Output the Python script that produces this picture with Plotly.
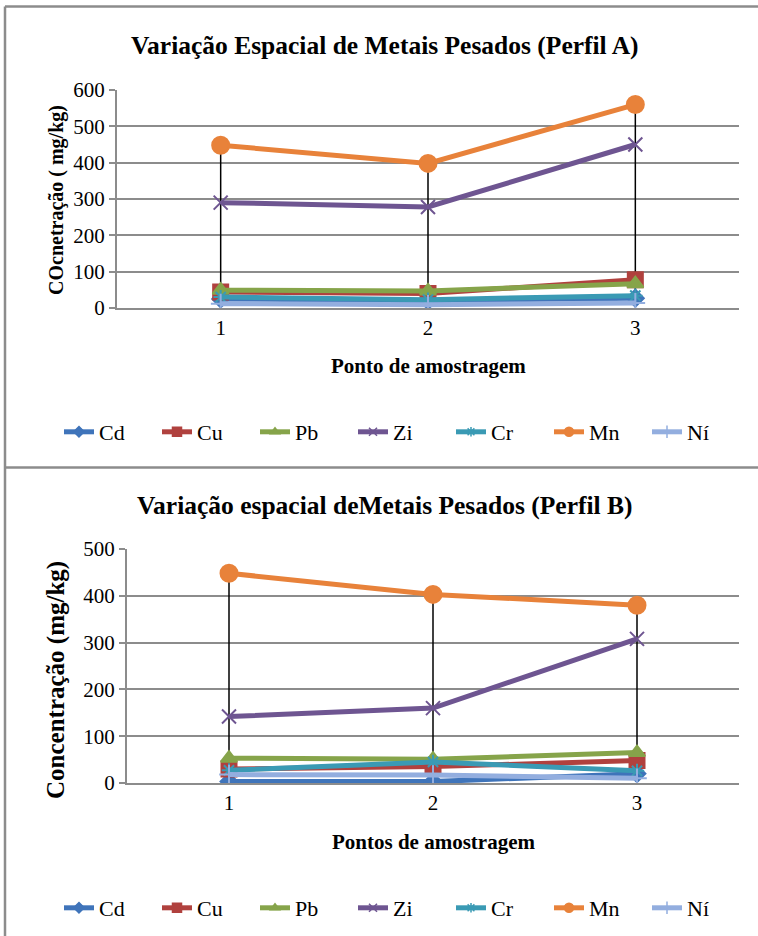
import plotly.graph_objects as go

W, H = 758, 936

points = [1, 2, 3]
point_labels = ["1", "2", "3"]
metals = ["Cd", "Cu", "Pb", "Zi", "Cr", "Mn", "Ní"]

# Perfil A (mg/kg)
A_Cd = [25, 20, 27]
A_Cu = [44, 40, 78]
A_Pb = [49, 47, 67]
A_Zi = [290, 278, 450]
A_Cr = [30, 23, 34]
A_Mn = [448, 398, 560]
A_Ni = [12, 9, 14]

# Perfil B (mg/kg)
B_Cd = [3, 3, 20]
B_Cu = [30, 35, 48]
B_Pb = [53, 51, 65]
B_Zi = [142, 160, 308]
B_Cr = [27, 45, 26]
B_Mn = [448, 403, 380]
B_Ni = [18, 17, 10]

colors = ["#3F74BA", "#B0413E", "#86A44A", "#6E5591", "#3A9AB4", "#E8823A", "#93AEDF"]
symbols = ["diamond", "square", "triangle-up", "x-thin", "asterisk", "circle", "cross-thin"]
msizes = [13, 15, 14, 14, 12, 17, 14]
legsizes = [8, 9, 8, 8, 8, 9, 9]

FONT = "Liberation Serif"

fig = go.Figure()


def px_x(p):
    return p / W


def px_y(p):
    return 1 - p / H


panels = [
    dict(data=[A_Cd, A_Cu, A_Pb, A_Zi, A_Cr, A_Mn, A_Ni], xa="x", ya="y", legend="legend",
         xdom=[px_x(117), px_x(739)], ydom=[px_y(308), px_y(90)], ymax=600,
         title="Variação Espacial de Metais Pesados (Perfil A)", title_y=45,
         ytitle="COcnetração ( mg/kg)", ytitle_size=20, ytitle_y=200,
         xtitle="Ponto de amostragem", xtitle_y=366, leg_y=432),
    dict(data=[B_Cd, B_Cu, B_Pb, B_Zi, B_Cr, B_Mn, B_Ni], xa="x2", ya="y2", legend="legend2",
         xdom=[px_x(127), px_x(739)], ydom=[px_y(783), px_y(549)], ymax=500,
         title="Variação espacial deMetais Pesados (Perfil B)", title_y=506,
         ytitle="Concentração (mg/kg)", ytitle_size=25, ytitle_y=680,
         xtitle="Pontos de amostragem", xtitle_y=842, leg_y=908),
]

annotations = []
for k, pnl in enumerate(panels):
    series = pnl["data"]
    # high-low lines
    hx, hy = [], []
    for i, p in enumerate(points):
        vals = [s[i] for s in series]
        hx += [p, p, None]
        hy += [min(vals), max(vals), None]
    fig.add_trace(go.Scatter(x=hx, y=hy, mode="lines", line=dict(color="black", width=1.5),
                             xaxis=pnl["xa"], yaxis=pnl["ya"], showlegend=False, hoverinfo="skip"))
    for j, name in enumerate(metals):
        fig.add_trace(go.Scatter(
            x=points, y=series[j], name=name, mode="lines+markers",
            line=dict(color=colors[j], width=5),
            marker=dict(symbol=symbols[j], size=msizes[j], color=colors[j],
                        line=dict(color=colors[j], width=2)),
            xaxis=pnl["xa"], yaxis=pnl["ya"], showlegend=False))
    # legend entries (smaller markers as in the reference legend)
    for j, name in enumerate(metals):
        fig.add_trace(go.Scatter(
            x=[None], y=[None], name=name, mode="lines+markers",
            line=dict(color=colors[j], width=5),
            marker=dict(symbol=symbols[j], size=legsizes[j], color=colors[j],
                        line=dict(color=colors[j], width=1.5)),
            xaxis=pnl["xa"], yaxis=pnl["ya"], legend=pnl["legend"], showlegend=True))
    axkey = "xaxis" if k == 0 else "xaxis2"
    aykey = "yaxis" if k == 0 else "yaxis2"
    fig.layout[axkey] = dict(domain=pnl["xdom"], anchor=pnl["ya"], range=[0.5, 3.5],
                             tickvals=points, ticktext=point_labels, showgrid=False,
                             showline=True, linecolor="#8C8C8C", linewidth=2, ticks="",
                             tickfont=dict(family=FONT, size=21, color="black"), zeroline=False,
                             fixedrange=True)
    fig.layout[aykey] = dict(domain=pnl["ydom"], anchor=pnl["xa"], range=[0, pnl["ymax"]],
                             dtick=100, showgrid=True, gridcolor="#8C8C8C", gridwidth=1.5,
                             showline=True, linecolor="#8C8C8C", linewidth=2, ticks="outside",
                             ticklen=6, tickcolor="#8C8C8C", tickwidth=1.5,
                             tickfont=dict(family=FONT, size=21, color="black"), zeroline=False,
                             fixedrange=True)
    annotations.append(dict(text="<b>%s</b>" % pnl["title"], x=px_x(385), y=px_y(pnl["title_y"]),
                            xref="paper", yref="paper", showarrow=False, xanchor="center",
                            yanchor="middle", font=dict(family=FONT, size=25.5, color="black")))
    annotations.append(dict(text="<b>%s</b>" % pnl["xtitle"], x=(pnl["xdom"][0] + pnl["xdom"][1]) / 2,
                            y=px_y(pnl["xtitle_y"]), xref="paper", yref="paper", showarrow=False,
                            xanchor="center", yanchor="middle",
                            font=dict(family=FONT, size=21, color="black")))
    annotations.append(dict(text="<b>%s</b>" % pnl["ytitle"], x=px_x(56),
                            y=px_y(pnl["ytitle_y"]), xref="paper", yref="paper",
                            showarrow=False, textangle=-90, xanchor="center", yanchor="middle",
                            font=dict(family=FONT, size=pnl["ytitle_size"], color="black")))
    leg = dict(orientation="h", x=px_x(402), xanchor="center", y=px_y(pnl["leg_y"]), yanchor="middle",
               font=dict(family=FONT, size=22, color="black"), bgcolor="rgba(0,0,0,0)",
               entrywidth=53, entrywidthmode="pixels", itemclick=False, itemdoubleclick=False,
               tracegroupgap=0)
    fig.layout[pnl["legend"]] = leg

shapes = [
    dict(type="line", xref="paper", yref="paper", x0=px_x(5), x1=1, y0=px_y(6.5), y1=px_y(6.5),
         line=dict(color="#8C8C8C", width=2.5)),
    dict(type="line", xref="paper", yref="paper", x0=px_x(5), x1=px_x(5), y0=0, y1=px_y(6.5),
         line=dict(color="#8C8C8C", width=2.5)),
    dict(type="line", xref="paper", yref="paper", x0=px_x(5), x1=1, y0=px_y(467.5), y1=px_y(467.5),
         line=dict(color="#8C8C8C", width=2.5)),
]

fig.update_layout(width=W, height=H, margin=dict(l=0, r=0, t=0, b=0, pad=0, autoexpand=False),
                  autosize=False, paper_bgcolor="white", plot_bgcolor="white",
                  annotations=annotations, shapes=shapes, hovermode=False)

fig.write_html("out.html", config={"displayModeBar": False, "responsive": False},
               post_script="document.body.style.margin='0';document.body.style.padding='0';")
